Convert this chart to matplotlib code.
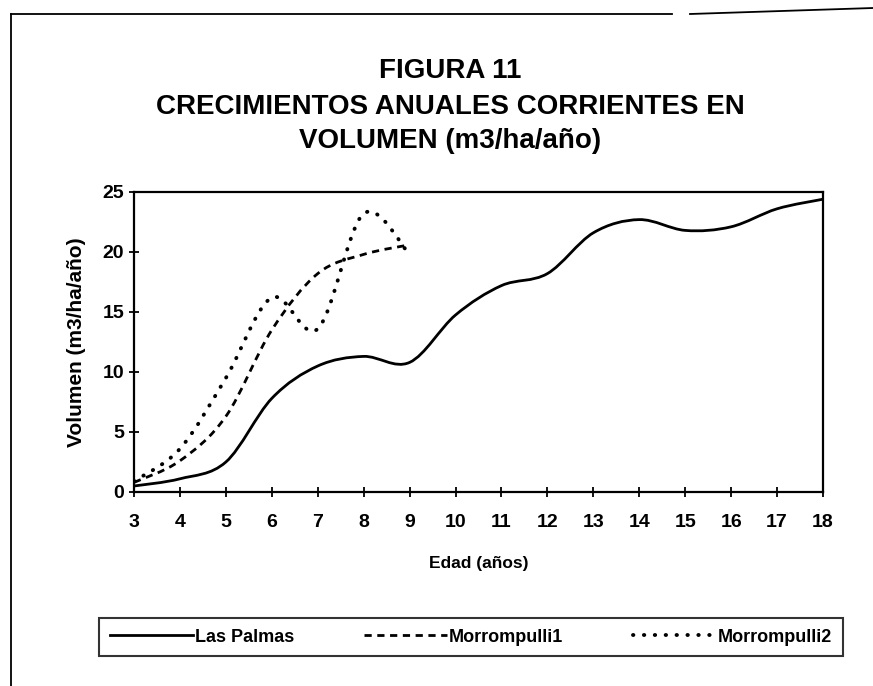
import numpy as np
import matplotlib
matplotlib.use("Agg")
import matplotlib.pyplot as plt
from matplotlib.path import Path
from matplotlib.patches import PathPatch
from matplotlib.lines import Line2D

# --- DATA ---
edad_lp = [3, 4, 5, 6, 7, 8, 9, 10, 11, 12, 13, 14, 15, 16, 17, 18]
vol_lp = [0.5, 1.1, 2.5, 7.8, 10.5, 11.3, 10.8, 14.75, 17.2, 18.2,
          21.6, 22.7, 21.8, 22.1, 23.6, 24.4]

edad_m = [3, 4, 5, 6, 7, 8, 9]
vol_m1 = [0.8, 2.6, 6.3, 13.5, 18.2, 19.8, 20.6]
vol_m2 = [0.9, 3.6, 9.5, 16.2, 13.6, 23.2, 19.8]

series_names = ["Las Palmas", "Morrompulli1", "Morrompulli2"]
title_lines = ["FIGURA 11", "CRECIMIENTOS ANUALES CORRIENTES EN",
               "VOLUMEN (m3/ha/año)"]

plt.rcParams['font.family'] = ['Liberation Sans', 'DejaVu Sans']
plt.rcParams['font.weight'] = 'bold'

DASHED = (0, (2.6, 2.0))
DOTTED = (0, (0.1, 2.7))


def smooth_path(xs, ys):
    # Excel style smoothed line: Catmull-Rom segments as cubic Beziers
    p = np.column_stack([xs, ys]).astype(float)
    ext = np.vstack([p[0], p, p[-1]])
    verts = [p[0]]
    codes = [Path.MOVETO]
    for i in range(1, len(ext) - 2):
        p0, p1, p2, p3 = ext[i - 1], ext[i], ext[i + 1], ext[i + 2]
        verts += [p1 + (p2 - p0) / 6, p2 - (p3 - p1) / 6, p2]
        codes += [Path.CURVE4] * 3
    return Path(verts, codes)


fig = plt.figure(figsize=(8.73, 6.86), dpi=100)
ax = fig.add_axes([134 / 873, 1 - 492 / 686, 689 / 873, 300 / 686])

styles = [('-', 'butt', 2.0), (DASHED, 'butt', 2.0), (DOTTED, 'round', 2.8)]
datasets = [(edad_lp, vol_lp), (edad_m, vol_m1), (edad_m, vol_m2)]
handles = []
for (xs, ys), (ls, cap, lw), name in zip(datasets, styles, series_names):
    patch = PathPatch(smooth_path(xs, ys), fill=False, edgecolor='black',
                      linewidth=lw, linestyle=ls, capstyle=cap,
                      joinstyle='round')
    ax.add_patch(patch)
    handles.append(Line2D([], [], color='black', linewidth=lw,
                          linestyle=ls, dash_capstyle=cap, label=name))

ax.set_xlim(3, 18)
ax.set_ylim(0, 25)
ax.set_xticks(range(3, 19))
ax.set_yticks(range(0, 26, 5))
ax.tick_params(direction='inout', length=7, width=1.3, labelsize=14)
ax.tick_params(axis='x', pad=12)
ax.tick_params(axis='y', pad=3.5)
for lab in ax.get_xticklabels() + ax.get_yticklabels():
    lab.set_fontweight('bold')
for sp in ax.spines.values():
    sp.set_linewidth(1.6)

ax.set_xlabel("Edad (años)", fontsize=12.5, fontweight='bold', labelpad=18)
ax.set_ylabel("Volumen (m3/ha/año)", fontsize=15, fontweight='bold',
              labelpad=12)

# title block
for txt, ypx in zip(title_lines, [71, 107, 141]):
    fig.text(450 / 873, 1 - ypx / 686, txt, ha='center', va='center',
             fontsize=20, fontweight='bold')

# legend box at the bottom
fig.legend(handles=handles, loc='center', ncol=3, mode='expand',
           bbox_to_anchor=(99 / 873, 1 - 669 / 686, 744 / 873, 64 / 686),
           frameon=True, fancybox=False, edgecolor='black',
           handlelength=4.6, handletextpad=0.1, columnspacing=2.0,
           borderaxespad=0.0, borderpad=0.6,
           prop={'weight': 'bold', 'size': 13})
fig.legends[0].get_frame().set_linewidth(1.5)

# outer page frame of the scanned figure
frame = dict(color='black', linewidth=1.3, transform=fig.transFigure)
fig.add_artist(Line2D([11 / 873, 11 / 873], [1 - 14 / 686, 0], **frame))
fig.add_artist(Line2D([11 / 873, 672 / 873], [1 - 14 / 686, 1 - 14 / 686], **frame))
fig.add_artist(Line2D([690 / 873, 873 / 873], [1 - 14 / 686, 1 - 8 / 686], **frame))

fig.savefig("out.png", dpi=100, facecolor='white')
